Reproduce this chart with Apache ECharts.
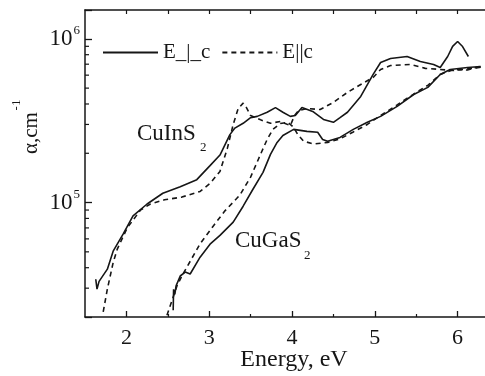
<!DOCTYPE html>
<html>
<head>
<meta charset="utf-8">
<script src="https://cdn.jsdelivr.net/npm/echarts@6/dist/echarts.min.js"></script>
<style>
  html, body { margin: 0; padding: 0; background: #ffffff; }
  #myChart { width: 485px; height: 376px; }
</style>
</head>
<body>
<div id="myChart"></div>
<script>
// absorption coefficient (cm^-1) against photon energy (eV)
const cuInS2Perp = [
  [1.63, 3.4e4], [1.645, 2.96e4], [1.67, 3.3e4], [1.77, 3.92e4], [1.84, 5.05e4],
  [1.96, 6.41e4], [2.08, 8.3e4], [2.25, 9.8e4], [2.44, 1.14e5], [2.65, 1.25e5],
  [2.85, 1.38e5], [3.01, 1.68e5], [3.13, 1.95e5], [3.25, 2.6e5], [3.31, 2.85e5],
  [3.41, 3.05e5], [3.50, 3.3e5], [3.58, 3.36e5], [3.70, 3.56e5], [3.80, 3.8e5],
  [3.89, 3.56e5], [3.98, 3.36e5], [4.04, 3.4e5], [4.12, 3.81e5], [4.25, 3.6e5],
  [4.38, 3.22e5], [4.50, 3.09e5], [4.58, 3.3e5], [4.67, 3.56e5], [4.83, 4.45e5],
  [4.98, 6.06e5], [5.07, 7.17e5], [5.19, 7.58e5], [5.39, 7.8e5], [5.55, 7.27e5],
  [5.71, 6.97e5], [5.79, 6.68e5], [5.88, 7.8e5], [5.94, 9.0e5], [6.00, 9.63e5],
  [6.06, 8.97e5], [6.13, 7.8e5]
];
const cuInS2Par = [
  [1.72, 2.15e4], [1.77, 2.96e4], [1.84, 4.3e4], [1.89, 5.2e4], [2.01, 7.0e4],
  [2.17, 9.0e4], [2.29, 9.8e4], [2.46, 1.04e5], [2.67, 1.08e5], [2.89, 1.17e5],
  [3.01, 1.31e5], [3.13, 1.55e5], [3.22, 2.15e5], [3.29, 3.0e5], [3.35, 3.75e5],
  [3.41, 4.05e5], [3.45, 3.8e5], [3.50, 3.4e5], [3.62, 3.2e5], [3.74, 3.05e5],
  [3.86, 3.13e5], [3.98, 2.95e5], [4.03, 3.4e5], [4.08, 3.65e5], [4.18, 3.75e5],
  [4.34, 3.7e5], [4.50, 4.09e5], [4.67, 4.71e5], [4.83, 5.26e5], [4.98, 5.81e5],
  [5.07, 6.5e5], [5.19, 6.87e5], [5.43, 6.97e5], [5.61, 6.6e5], [5.79, 6.5e5],
  [5.95, 6.4e5], [6.12, 6.55e5], [6.28, 6.7e5]
];
const cuGaS2Perp = [
  [2.565, 2.2e4], [2.57, 2.95e4], [2.585, 2.75e4], [2.60, 3.1e4], [2.65, 3.56e4],
  [2.71, 3.76e4], [2.77, 3.66e4], [2.89, 4.64e4], [3.01, 5.57e4], [3.13, 6.3e4],
  [3.29, 7.6e4], [3.41, 9.5e4], [3.53, 1.21e5], [3.65, 1.53e5], [3.74, 1.97e5],
  [3.82, 2.33e5], [3.89, 2.57e5], [4.02, 2.8e5], [4.18, 2.72e5], [4.31, 2.69e5],
  [4.37, 2.43e5], [4.43, 2.37e5], [4.58, 2.5e5], [4.74, 2.8e5], [4.91, 3.09e5],
  [5.07, 3.36e5], [5.27, 3.87e5], [5.47, 4.57e5], [5.64, 5.05e5], [5.79, 6.06e5],
  [5.91, 6.5e5], [6.12, 6.68e5], [6.28, 6.78e5]
];
const cuGaS2Par = [
  [2.49, 2.05e4], [2.61, 3.09e4], [2.67, 3.56e4], [2.73, 4.03e4], [2.89, 5.6e4],
  [3.05, 7.2e4], [3.19, 8.9e4], [3.37, 1.11e5], [3.50, 1.43e5], [3.62, 1.97e5],
  [3.70, 2.43e5], [3.77, 2.8e5], [3.86, 3.04e5], [3.95, 3.09e5], [4.02, 2.88e5],
  [4.07, 2.6e5], [4.14, 2.37e5], [4.26, 2.28e5], [4.43, 2.33e5], [4.58, 2.45e5],
  [4.74, 2.7e5], [4.91, 3.0e5], [5.07, 3.4e5], [5.27, 3.95e5], [5.47, 4.6e5],
  [5.64, 5.2e5], [5.79, 6.06e5], [5.95, 6.5e5], [6.12, 6.45e5], [6.28, 6.8e5]
];
const xMin = 1.5, xMax = 6.5;
const yMin = 2e4, yMax = 1.5e6;
const xMajor = [2, 3, 4, 5, 6];
const xMinor = [2.5, 3.5, 4.5, 5.5];
const xTop = [2, 2.5, 3, 3.5, 4, 4.5, 5, 5.5, 6];
const yMinor = [3e4, 4e4, 5e4, 6e4, 7e4, 8e4, 9e4, 2e5, 3e5, 4e5, 5e5, 6e5, 7e5, 8e5, 9e5];

const ink = '#161616';
const serif = '"Liberation Serif", "DejaVu Serif", serif';

let myChart = echarts.init(document.getElementById('myChart'));

function lineSeries(name, data, dashed) {
  return {
    name: name,
    type: 'line',
    data: data,
    showSymbol: false,
    symbol: 'none',
    xAxisIndex: 0,
    lineStyle: { color: ink, width: 1.6, type: dashed ? [5, 4] : 'solid' },
    itemStyle: { color: ink },
    z: 3
  };
}

myChart.setOption({
  animation: false,
  backgroundColor: '#ffffff',
  grid: { left: 85, top: 10, right: -14, bottom: 59, containLabel: false, outerBoundsMode: 'none' },
  legend: {
    data: ['E_|_c', 'E||c'],
    left: 102, top: 42, padding: 0,
    itemWidth: 55, itemHeight: 14, itemGap: 11,
    itemStyle: { opacity: 0 },
    textStyle: { color: ink, fontFamily: serif, fontSize: 21 }
  },
  xAxis: [{
    type: 'value', min: xMin, max: xMax, position: 'bottom',
    name: 'Energy, eV', nameLocation: 'middle', nameGap: 31, nameMoveOverlap: false,
    nameTextStyle: { color: ink, fontFamily: serif, fontSize: 24, padding: [0, 0, 0, 4] },
    axisLine: { show: true, lineStyle: { color: ink, width: 1.5 } },
    axisTick: { inside: true, length: 6, customValues: xMajor, lineStyle: { color: ink, width: 1.3 } },
    axisLabel: { customValues: xMajor, margin: 10, color: ink, fontFamily: serif, fontSize: 22 },
    splitLine: { show: false }
  }, {
    type: 'value', min: xMin, max: xMax, position: 'bottom',
    axisLine: { show: false },
    axisTick: { inside: true, length: 3, customValues: xMinor, lineStyle: { color: ink, width: 1.2 } },
    axisLabel: { show: false },
    splitLine: { show: false }
  }, {
    type: 'value', min: xMin, max: xMax, position: 'top',
    axisLine: { show: true, lineStyle: { color: ink, width: 1.5 } },
    axisTick: { inside: true, length: 4, customValues: xTop, lineStyle: { color: ink, width: 1.2 } },
    axisLabel: { show: false },
    splitLine: { show: false }
  }],
  yAxis: {
    type: 'log', logBase: 10, min: yMin, max: yMax,
    axisLine: { show: true, lineStyle: { color: ink, width: 1.5 } },
    axisTick: { inside: true, length: 7, lineStyle: { color: ink, width: 1.3 } },
    axisLabel: {
      margin: 5, color: ink,
      formatter: function (v) {
        const p = Math.log10(v);
        if (Math.abs(p - Math.round(p)) > 1e-6) return '';
        return '{b|10}{s|' + Math.round(p) + '}';
      },
      rich: {
        b: { fontFamily: serif, fontSize: 23, color: ink },
        s: { fontFamily: serif, fontSize: 13, color: ink, padding: [0, 0, 16, 1] }
      }
    },
    splitLine: { show: false }
  },
  graphic: [
    { type: 'text', x: 31, y: 133, rotation: Math.PI / 2,
      style: { text: 'α,cm', font: '21px ' + serif, fill: ink, align: 'center', verticalAlign: 'middle' } },
    { type: 'text', x: 17, y: 105, rotation: Math.PI / 2,
      style: { text: '-1', font: '13px ' + serif, fill: ink, align: 'center', verticalAlign: 'middle' } },
    { type: 'text', left: 137, top: 122,
      style: { text: 'CuInS', font: '23px ' + serif, fill: ink } },
    { type: 'text', left: 200, top: 141,
      style: { text: '2', font: '13px ' + serif, fill: ink } },
    { type: 'text', left: 235, top: 229,
      style: { text: 'CuGaS', font: '23px ' + serif, fill: ink } },
    { type: 'text', left: 304, top: 249,
      style: { text: '2', font: '13px ' + serif, fill: ink } }
  ],
  series: [
    lineSeries('E_|_c', cuInS2Perp, false),
    lineSeries('E||c', cuInS2Par, true),
    lineSeries('E_|_c', cuGaS2Perp, false),
    lineSeries('E||c', cuGaS2Par, true),
    {
      // minor ticks of the log axis (2..9 in every decade)
      type: 'custom',
      silent: true,
      data: yMinor.map(function (v) { return [xMin, v]; }),
      renderItem: function (params, api) {
        const p = api.coord([api.value(0), api.value(1)]);
        return {
          type: 'line',
          shape: { x1: p[0], y1: p[1], x2: p[0] + 4, y2: p[1] },
          style: { stroke: ink, lineWidth: 1.2 }
        };
      },
      z: 4
    }
  ]
});
</script>
</body>
</html>
